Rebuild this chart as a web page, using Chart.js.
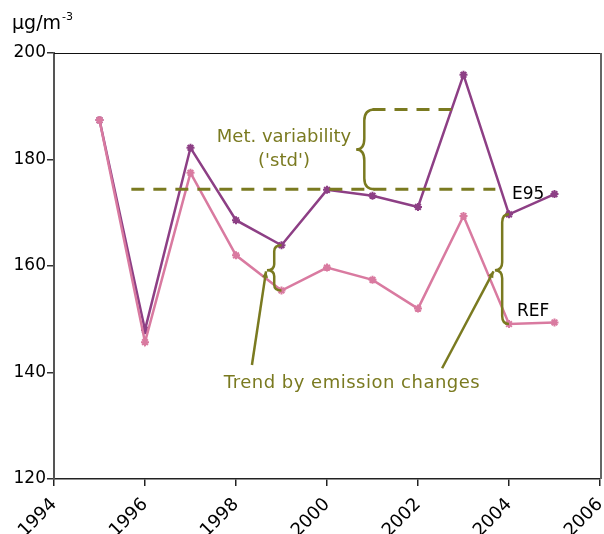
<!DOCTYPE html>
<html>
<head>
<meta charset="utf-8">
<script src="https://cdn.jsdelivr.net/npm/chart.js@4.4.1/dist/chart.umd.min.js"></script>
<style>
  html, body { margin: 0; padding: 0; background: #fff; overflow: hidden; }
  #wrap { width: 604px; height: 534px; overflow: hidden; }
</style>
</head>
<body>
<div id="wrap"><canvas id="myChart" width="606" height="534"></canvas></div>
<script>
// values
var years = [1995, 1996, 1997, 1998, 1999, 2000, 2001, 2002, 2003, 2004, 2005];
var e95 = [187.4, 148.0, 182.2, 168.6, 163.9, 174.3, 173.2, 171.1, 195.9, 169.7, 173.5];
var ref = [187.4, 145.7, 177.5, 162.0, 155.4, 159.7, 157.4, 152.0, 169.4, 149.1, 149.4];
var xTicks = [1994, 1996, 1998, 2000, 2002, 2004, 2006];
var yTicks = [120, 140, 160, 180, 200];

// annotation levels (data units)
var meanLevel = 174.4, highLevel = 189.4;
var meanSpan = [1995.7, 2003.7], highSpan = [2001.0, 2002.75];

var PURPLE = '#8d3f85', PINK = '#d97aa0', OLIVE = '#7a7a20';
var FONT = '"DejaVu Sans", Verdana, sans-serif';

function pts(vals) {
    return years.map(function (y, i) { return { x: y, y: vals[i] }; });
}

function brace(ctx, xEnd, xBody, xTip, yTop, yMid, yBot, r) {
    ctx.beginPath();
    ctx.moveTo(xEnd, yTop);
    ctx.quadraticCurveTo(xBody, yTop, xBody, yTop + r);
    ctx.lineTo(xBody, yMid - r);
    ctx.quadraticCurveTo(xBody, yMid, xTip, yMid);
    ctx.quadraticCurveTo(xBody, yMid, xBody, yMid + r);
    ctx.lineTo(xBody, yBot - r);
    ctx.quadraticCurveTo(xBody, yBot, xEnd, yBot);
    ctx.stroke();
}

function arrow(ctx, x1, y1, x2, y2) {
    ctx.beginPath();
    ctx.moveTo(x1, y1);
    ctx.lineTo(x2, y2);
    ctx.stroke();
    var a = Math.atan2(y2 - y1, x2 - x1), h = 7;
    ctx.beginPath();
    ctx.moveTo(x2, y2);
    ctx.lineTo(x2 - h * Math.cos(a - 0.45), y2 - h * Math.sin(a - 0.45));
    ctx.lineTo(x2 - h * Math.cos(a + 0.45), y2 - h * Math.sin(a + 0.45));
    ctx.closePath();
    ctx.fill();
}

var extras = {
    id: 'extras',
    afterDatasetsDraw: function (chart) {
        var ctx = chart.ctx, xs = chart.scales.x, ys = chart.scales.y, a = chart.chartArea;
        var X = function (v) { return xs.getPixelForValue(v); };
        var Y = function (v) { return ys.getPixelForValue(v); };
        ctx.save();
        // frame top and right
        ctx.lineWidth = 1.2;
        ctx.strokeStyle = '#111';
        ctx.beginPath(); ctx.moveTo(a.left, a.top + 0.5); ctx.lineTo(a.right + 1, a.top + 0.5); ctx.stroke();
        ctx.lineWidth = 2;
        ctx.strokeStyle = '#666';
        ctx.beginPath(); ctx.moveTo(a.right + 1, a.top); ctx.lineTo(a.right + 1, a.bottom); ctx.stroke();

        // dashed levels
        ctx.strokeStyle = OLIVE;
        ctx.fillStyle = OLIVE;
        ctx.lineWidth = 3;
        ctx.setLineDash([13, 9]);
        ctx.beginPath(); ctx.moveTo(X(meanSpan[0]), Y(meanLevel)); ctx.lineTo(X(meanSpan[1]), Y(meanLevel)); ctx.stroke();
        ctx.beginPath(); ctx.moveTo(X(highSpan[0]), Y(highLevel)); ctx.lineTo(X(highSpan[1]), Y(highLevel)); ctx.stroke();
        ctx.setLineDash([]);

        // braces
        ctx.lineWidth = 2.5;
        brace(ctx, X(2001.05), X(2000.82), X(2000.64), Y(highLevel), Y((highLevel + meanLevel) / 2), Y(meanLevel), 11);
        brace(ctx, X(1999), X(1998.84), X(1998.68), Y(e95[4]), Y(159.2), Y(ref[4]), 6);
        brace(ctx, X(2004), X(2003.85), X(2003.69), Y(e95[9]), Y(159.2), Y(ref[9]), 8);

        // arrows
        arrow(ctx, X(1998.35), Y(141.4), X(1998.66), Y(159.0));
        arrow(ctx, X(2002.53), Y(140.8), X(2003.66), Y(159.0));

        // texts
        ctx.textBaseline = 'middle';
        ctx.textAlign = 'center';
        ctx.font = '18px ' + FONT;
        ctx.fillText('Met. variability', 284, 137);
        ctx.fillText("('std')", 284, 161);
        ctx.letterSpacing = '0.5px';
        ctx.fillText('Trend by emission changes', 352, 383);
        ctx.letterSpacing = '0px';
        ctx.fillStyle = '#000';
        ctx.textAlign = 'left';
        ctx.font = '17px ' + FONT;
        ctx.fillText('E95', 512, 195);
        ctx.fillText('REF', 517, 312);

        // unit
        ctx.font = '19px ' + FONT;
        ctx.fillText('\u00b5g/m', 12, 24);
        var w = ctx.measureText('\u00b5g/m').width;
        ctx.font = '11px ' + FONT;
        ctx.fillText('-3', 12 + w + 1, 17);
        ctx.restore();
    }
};

var ctx = document.getElementById('myChart').getContext('2d');
var chart = new Chart(ctx, {
    type: 'line',
    data: {
        datasets: [{
            label: 'REF',
            data: pts(ref),
            borderColor: PINK,
            backgroundColor: PINK,
            borderWidth: 2.5,
            pointStyle: 'star',
            pointRadius: 4,
            pointBorderWidth: 2,
            tension: 0
        }, {
            label: 'E95',
            data: pts(e95),
            borderColor: PURPLE,
            backgroundColor: PURPLE,
            borderWidth: 2.5,
            pointStyle: 'star',
            pointRadius: 4,
            pointBorderWidth: 2,
            tension: 0
        }]
    },
    options: {
        responsive: false,
        animation: false,
        layout: { padding: { top: 53, right: 0, left: 0, bottom: 0 } },
        plugins: { legend: { display: false }, tooltip: { enabled: false } },
        scales: {
            x: {
                type: 'linear',
                min: xTicks[0],
                max: xTicks[xTicks.length - 1],
                afterBuildTicks: function (s) { s.ticks = xTicks.map(function (v) { return { value: v }; }); },
                afterFit: function (s) { s.height = 55; s.paddingLeft = 0; s.paddingRight = 0; },
                ticks: {
                    callback: function (v) { return String(v); },
                    minRotation: 45, maxRotation: 45,
                    color: '#000', padding: 8,
                    font: { family: FONT, size: 18 }
                },
                grid: { drawOnChartArea: false, drawTicks: true, tickLength: 7, color: '#222', lineWidth: 1.5 },
                border: { color: '#222', width: 1.5 }
            },
            y: {
                min: yTicks[0],
                max: yTicks[yTicks.length - 1],
                afterBuildTicks: function (s) { s.ticks = yTicks.map(function (v) { return { value: v }; }); },
                afterFit: function (s) { s.width = 54; s.paddingTop = 0; s.paddingBottom = 0; },
                ticks: { color: '#000', padding: 1, font: { family: FONT, size: 17 } },
                grid: { drawOnChartArea: false, drawTicks: true, tickLength: 7, color: '#333', lineWidth: 1.5 },
                border: { color: '#555', width: 2 }
            }
        }
    },
    plugins: [extras]
});
</script>
</body>
</html>
